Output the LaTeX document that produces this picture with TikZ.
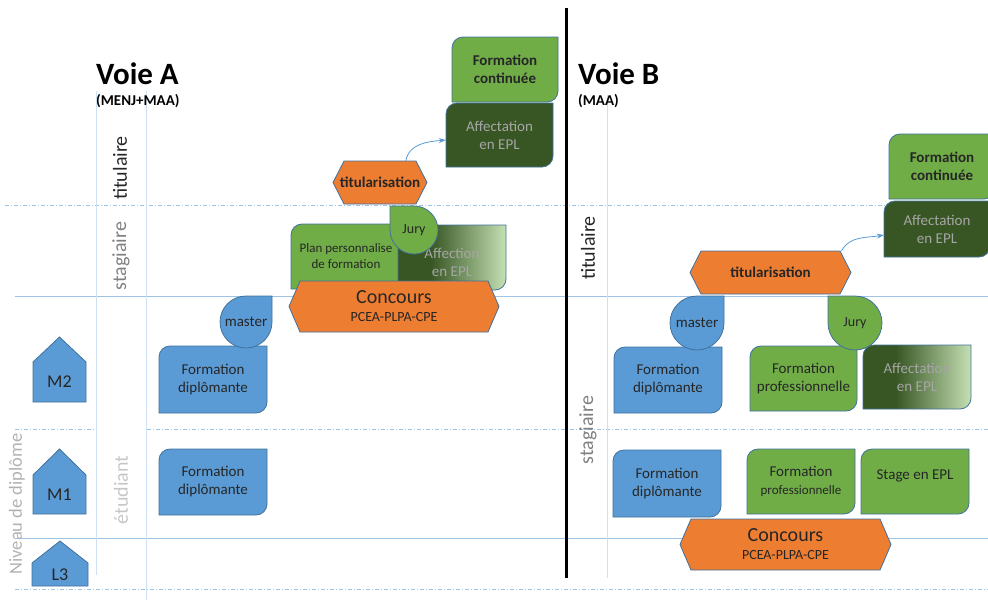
\documentclass[tikz,border=0pt]{standalone}
\usepackage{fontspec}
\setmainfont{Carlito}
\usetikzlibrary{arrows.meta,calc}

\definecolor{boxblue}{HTML}{5B9BD5}
\definecolor{edgeblue}{HTML}{41719C}
\definecolor{boxgreen}{HTML}{70AD47}
\definecolor{boxorange}{HTML}{ED7D31}
\definecolor{darkgreen}{HTML}{375623}
\definecolor{palegreen}{HTML}{C5E0B4}
\definecolor{gridblue}{HTML}{9DC3E6}
\definecolor{labelgray}{HTML}{A6A6A6}

\pgfdeclarehorizontalshading{fadegreen}{100bp}{color(0bp)=(darkgreen); color(40bp)=(darkgreen); color(75bp)=(palegreen); color(100bp)=(palegreen)}

% box with two round corners: name, box style, text style, x, y, width, height, text
\newcommand{\rdbox}[8]{%
  \draw[#2] (#4,#5+#7) -- ++(0,-#7+11) arc[start angle=180, end angle=270, radius=11]
    -- ++(#6-11,0) -- ++(0,#7-11) arc[start angle=0, end angle=90, radius=11] -- cycle;
  \node[boxtext, minimum width=#6pt, minimum height=#7pt, #3] (#1) at (#4+#6/2,#5+#7/2) {#8};}

% drop with one square corner: name, box style, centre, radius, corner angle, text style, text
\newcommand{\dropbox}[7]{%
  \draw[#2] ($#3+(#5-45:#4)$) -- ($#3+(#5:#4*1.4142)$) -- ($#3+(#5+45:#4)$)
    arc[start angle=#5+45, end angle=#5+315, radius=#4] -- cycle;
  \node[boxtext, #6] (#1) at #3 {#7};}

% hexagon: name, x, y, width, height, text
\newcommand{\hexbox}[6]{%
  \draw[hexa] (#2,#3+#5/2) -- (#2+11,#3) -- (#2+#4-11,#3) -- (#2+#4,#3+#5/2)
    -- (#2+#4-11,#3+#5) -- (#2+11,#3+#5) -- cycle;
  \node[boxtext, minimum width=#4pt, minimum height=#5pt] (#1) at (#2+#4/2,#3+#5/2) {#6};}

% level tag: name, x, y, width, height, shoulder, text
\newcommand{\housebox}[7]{%
  \draw[bluefill] (#2,#3+#5) -- (#2,#3+#6) -- (#2+#4/2,#3) -- (#2+#4,#3+#6) -- (#2+#4,#3+#5) -- cycle;
  \node[boxtext, font=\fontsize{18}{20}\selectfont] (#1) at (#2+#4/2,#3+#6/2+#5/2) {#7};}

\begin{document}
\begin{tikzpicture}[x=1pt, y=-1pt,
    boxtext/.style={align=center, inner sep=0pt, text=black!85, font=\fontsize{15}{18}\selectfont},
    bluefill/.style={fill=boxblue, draw=edgeblue, line width=0.8pt},
    greenfill/.style={fill=boxgreen, draw=edgeblue, line width=0.8pt},
    darkfill/.style={fill=darkgreen, draw=edgeblue, line width=0.8pt},
    fadefill/.style={shade, shading=fadegreen, draw=edgeblue, line width=0.8pt},
    hexa/.style={fill=boxorange, draw=edgeblue, line width=0.8pt},
    gridline/.style={draw=gridblue, line width=0.8pt},
    griddash/.style={gridline, dash pattern=on 4pt off 2pt on 1pt off 2pt},
    sidelabel/.style={rotate=90, inner sep=0pt, font=\fontsize{20}{24}\selectfont},
    arr/.style={draw=boxblue, line width=0.8pt, -{Stealth[length=7pt, width=5pt]}}]
  \useasboundingbox (0,0) rectangle (988,600);

  % Grid
  % ---------------------
  \draw[griddash] (5,205) -- (988,205);
  \draw[gridline] (15,296) -- (988,296);
  \draw[griddash] (15,429) -- (97,429);
  \draw[griddash] (147,429) -- (988,429);
  \draw[gridline] (15,538) -- (988,538);
  \draw[griddash] (15,589) -- (988,589);
  \draw[gridline, draw=gridblue!50, line width=0.6pt] (96,91) -- (96,575);
  \draw[gridline, draw=gridblue!50, line width=0.6pt] (146,91) -- (146,600);
  \draw[gridline, draw=gridblue!50, line width=0.6pt] (607,95) -- (607,578);
  \draw[line width=3pt] (566,8) -- (566,578);

  % Voie A
  % ---------------------
  \node[anchor=base west, inner sep=0pt, font=\fontsize{31}{36}\selectfont\bfseries] (voieA) at (96,84) {Voie A};
  \node[anchor=base west, inner sep=0pt, font=\fontsize{15}{18}\selectfont\bfseries] (orgA) at (96,105) {(MENJ+MAA)};
  \node[sidelabel, text=black!85] (titulA) at (120,168) {titulaire};
  \node[sidelabel, text=black!50] (stagA) at (121,256) {stagiaire};
  \node[sidelabel, text=black!22] (etudA) at (121,490) {étudiant};
  \node[sidelabel, text=black!30, font=\fontsize{18.5}{22}\selectfont] (niveau) at (17,504) {Niveau de diplôme};

  \housebox{mtwo}{33}{337}{53}{65}{25}{M2}
  \housebox{mone}{33}{449}{53}{65}{26}{M1}
  \housebox{lthree}{32}{541}{56}{45}{22}{L3}

  \rdbox{fcA}{greenfill}{font=\fontsize{15}{18}\selectfont\bfseries}{452}{37}{106}{65}{Formation\\continuée}
  \rdbox{affA}{darkfill}{text=labelgray}{446}{103}{107}{64}{Affectation\\en EPL}
  \hexbox{titA}{333}{161}{94}{43}{\bfseries titularisation}
  \draw[arr] (titA.40) to[out=80, in=185] ([yshift=-5pt]affA.west);
  \rdbox{planA}{greenfill}{font=\fontsize{13}{16}\selectfont}{291}{224}{110}{65}{Plan personnalise\\de formation}
  \rdbox{affnA}{fadefill}{text=labelgray, yshift=-5pt}{398}{225}{108}{65}{Affection\\en EPL}
  \dropbox{juryA}{greenfill}{(414,230)}{24}{-135}{font=\fontsize{14}{16}\selectfont}{Jury}
  \hexbox{concA}{289}{281}{210}{51}{{\fontsize{20}{22}\selectfont Concours}\\{\fontsize{14}{15}\selectfont PCEA-PLPA-CPE}}
  \rdbox{fdAtwo}{bluefill}{}{159}{346}{108}{67}{Formation\\diplômante}
  \dropbox{masterA}{bluefill}{(246,322)}{26}{-45}{font=\fontsize{15}{17}\selectfont}{master}
  \rdbox{fdAone}{bluefill}{}{159}{449}{108}{66}{Formation\\diplômante}

  % Voie B
  % ---------------------
  \node[anchor=base west, inner sep=0pt, font=\fontsize{31}{36}\selectfont\bfseries] (voieB) at (578,84) {Voie B};
  \node[anchor=base west, inner sep=0pt, font=\fontsize{15}{18}\selectfont\bfseries] (orgB) at (578,105) {(MAA)};
  \node[sidelabel, text=black!85] (titulB) at (588,248) {titulaire};
  \node[sidelabel, text=black!50] (stagB) at (588,430) {stagiaire};

  \rdbox{fcB}{greenfill}{font=\fontsize{15}{18}\selectfont\bfseries}{889}{134}{106}{65}{Formation\\continuée}
  \rdbox{affB}{darkfill}{text=labelgray}{884}{201}{106}{56}{Affectation\\en EPL}
  \hexbox{titB}{690}{251}{161}{43}{\bfseries titularisation}
  \draw[arr] (titB.17) to[out=60, in=190] ([yshift=-6pt]affB.west);
  \rdbox{fdBtwo}{bluefill}{}{614}{347}{108}{66}{Formation\\diplômante}
  \rdbox{fpBtwo}{greenfill}{}{750}{346}{107}{65}{Formation\\professionnelle}
  \rdbox{affBtwo}{fadefill}{text=labelgray}{863}{345}{108}{64}{Affectation\\en EPL}
  \dropbox{masterB}{bluefill}{(697,323)}{27}{-45}{font=\fontsize{15}{17}\selectfont}{master}
  \dropbox{juryB}{greenfill}{(855,323)}{27}{-135}{font=\fontsize{14}{16}\selectfont}{Jury}
  \rdbox{fdBone}{bluefill}{}{613}{450}{108}{67}{Formation\\diplômante}
  \rdbox{fpBone}{greenfill}{}{747}{449}{108}{65}{Formation\\{\fontsize{13}{16}\selectfont professionnelle}}
  \rdbox{stageB}{greenfill}{yshift=6pt}{861}{449}{108}{65}{Stage en EPL}
  \hexbox{concB}{680}{519}{211}{51}{{\fontsize{20}{22}\selectfont Concours}\\{\fontsize{14}{15}\selectfont PCEA-PLPA-CPE}}
\end{tikzpicture}
\end{document}
